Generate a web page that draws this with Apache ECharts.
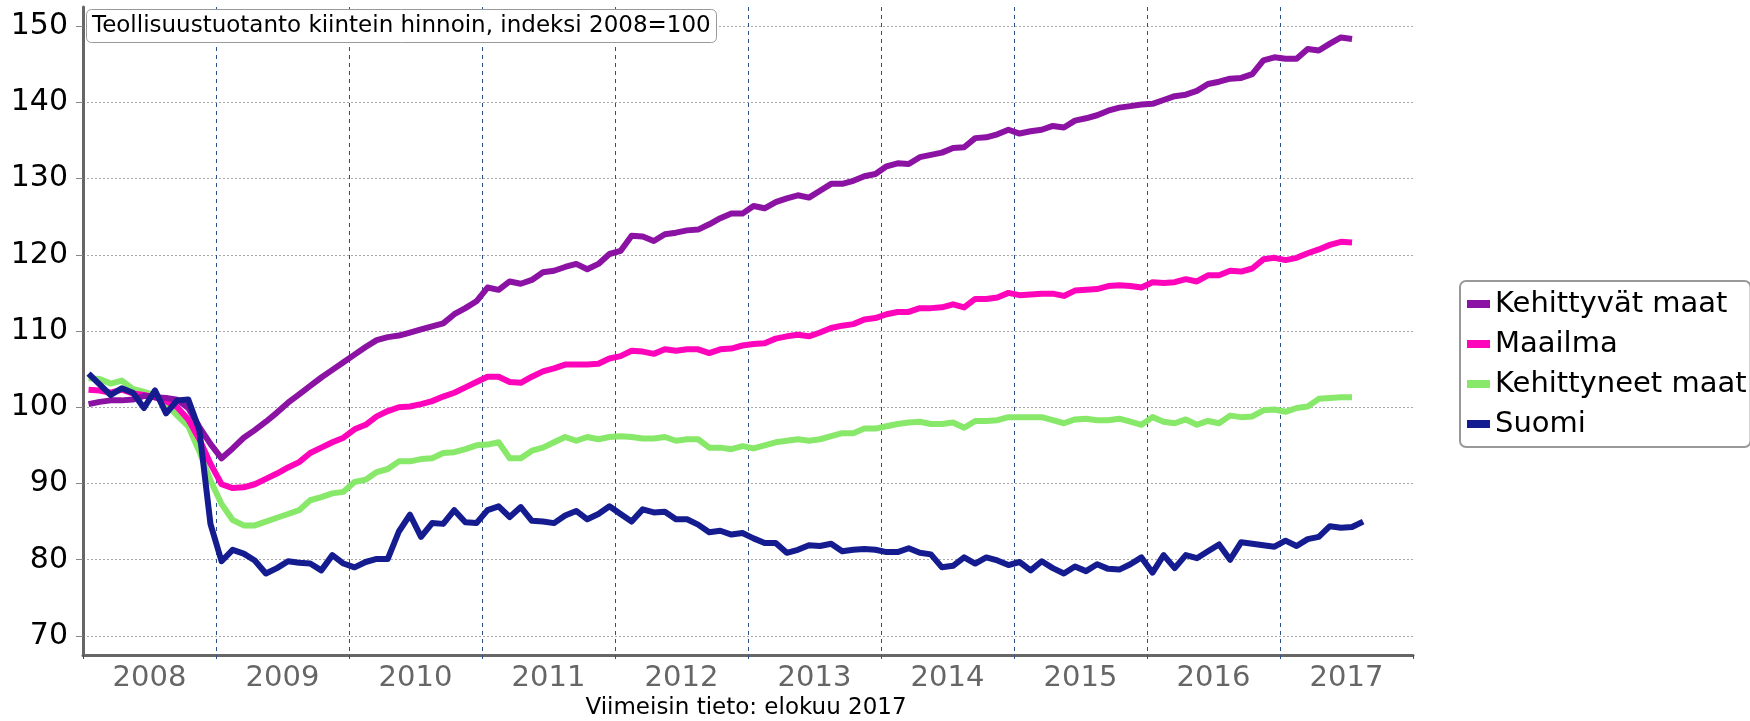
<!DOCTYPE html>
<html>
<head>
<meta charset="utf-8">
<script src="https://cdn.jsdelivr.net/npm/echarts@6/dist/echarts.min.js"></script>
<style>
  html, body { margin: 0; padding: 0; background: #fff; }
  #chart { width: 1750px; height: 721px; }
</style>
</head>
<body>
<div id="chart"></div>
<script>
// vuodet (x-akselin otsikot)
const years = ['2008', '2009', '2010', '2011', '2012', '2013', '2014', '2015', '2016', '2017'];

// kuukausittaiset arvot, indeksi 2008=100 (tammikuu 2008 ->)
const kehittyvat = [
  100.4, 100.7, 100.9, 100.9, 101.0, 101.5, 101.3, 101.2, 101.0, 99.9, 97.4, 95.2,
  93.3, 94.6, 96.0, 97.0, 98.1, 99.3, 100.6, 101.7, 102.8, 103.9, 104.9, 105.9,
  106.9, 107.9, 108.8, 109.2, 109.4, 109.8, 110.2, 110.6, 111.0, 112.2, 113.0, 113.9,
  115.7, 115.4, 116.5, 116.2, 116.7, 117.7, 117.9, 118.4, 118.8, 118.1, 118.8, 120.1,
  120.5, 122.5, 122.4, 121.8, 122.7, 122.9, 123.2, 123.3, 124.0, 124.8, 125.4, 125.4,
  126.4, 126.1, 126.9, 127.4, 127.8, 127.5, 128.4, 129.3, 129.3, 129.7, 130.3, 130.6,
  131.6, 132.0, 131.9, 132.8, 133.1, 133.4, 134.0, 134.1, 135.3, 135.4, 135.8, 136.4,
  135.9, 136.2, 136.4, 136.9, 136.7, 137.6, 137.9, 138.3, 138.9, 139.3, 139.5, 139.7,
  139.8, 140.3, 140.8, 141.0, 141.5, 142.4, 142.7, 143.1, 143.2, 143.7, 145.5, 145.9,
  145.7, 145.7, 147.0, 146.8, 147.7, 148.5, 148.3
];
const maailma = [
  102.3, 102.2, 101.9, 102.3, 101.8, 101.6, 101.3, 100.8, 100.0, 98.4, 95.8, 92.6,
  89.9, 89.4, 89.5, 89.9, 90.6, 91.3, 92.1, 92.8, 94.0, 94.7, 95.4, 96.0,
  97.1, 97.7, 98.8, 99.5, 100.0, 100.1, 100.4, 100.8, 101.4, 101.9, 102.6, 103.3,
  104.0, 104.0, 103.3, 103.2, 104.0, 104.7, 105.1, 105.6, 105.6, 105.6, 105.7, 106.4,
  106.7, 107.4, 107.3, 107.0, 107.6, 107.4, 107.6, 107.6, 107.1, 107.6, 107.7, 108.1,
  108.3, 108.4, 109.0, 109.3, 109.5, 109.3, 109.8, 110.4, 110.7, 110.9, 111.5, 111.7,
  112.2, 112.5, 112.5, 113.0, 113.0, 113.1, 113.5, 113.1, 114.2, 114.2, 114.4, 115.0,
  114.7, 114.8, 114.9, 114.9, 114.6, 115.3, 115.4, 115.5, 115.9, 116.0, 115.9, 115.7,
  116.4, 116.3, 116.4, 116.8, 116.5, 117.3, 117.3, 117.9, 117.8, 118.2, 119.4, 119.6,
  119.3, 119.6, 120.2, 120.7, 121.3, 121.7, 121.6
];
const kehittyneet = [
  103.8, 103.7, 103.1, 103.5, 102.4, 102.0, 101.6, 100.4, 98.9, 97.5, 94.2, 90.4,
  87.3, 85.2, 84.5, 84.5, 85.0, 85.5, 86.0, 86.5, 87.8, 88.2, 88.7, 88.9,
  90.2, 90.5, 91.5, 91.9, 92.9, 92.9, 93.2, 93.3, 94.0, 94.1, 94.5, 95.0,
  95.1, 95.4, 93.3, 93.3, 94.3, 94.7, 95.4, 96.1, 95.6, 96.1, 95.8, 96.1,
  96.2, 96.1, 95.9, 95.9, 96.1, 95.6, 95.8, 95.8, 94.7, 94.7, 94.5, 94.9,
  94.6, 95.0, 95.4, 95.6, 95.8, 95.6, 95.8, 96.2, 96.6, 96.6, 97.2, 97.2,
  97.5, 97.8, 98.0, 98.1, 97.8, 97.8, 98.0, 97.3, 98.2, 98.2, 98.3, 98.7,
  98.7, 98.7, 98.7, 98.3, 97.9, 98.4, 98.5, 98.3, 98.3, 98.5, 98.1, 97.7,
  98.7, 98.1, 97.9, 98.4, 97.7, 98.2, 97.9, 98.9, 98.7, 98.8, 99.6, 99.7,
  99.4, 99.9, 100.1, 101.1, 101.2, 101.3, 101.3
];
const suomi = [
  104.4, 103.0, 101.6, 102.5, 101.9, 99.9, 102.2, 99.2, 100.9, 101.0, 97.0, 84.7,
  79.8, 81.3, 80.8, 79.9, 78.2, 78.9, 79.8, 79.6, 79.5, 78.6, 80.6, 79.5,
  79.0, 79.7, 80.1, 80.1, 83.7, 85.9, 83.0, 84.8, 84.7, 86.5, 84.9, 84.8,
  86.5, 87.0, 85.6, 86.9, 85.1, 85.0, 84.8, 85.8, 86.4, 85.3, 86.0, 87.0,
  86.0, 85.0, 86.6, 86.2, 86.3, 85.3, 85.3, 84.6, 83.6, 83.8, 83.3, 83.5,
  82.8, 82.2, 82.2, 80.9, 81.3, 81.9, 81.8, 82.1, 81.1, 81.3, 81.4, 81.3,
  81.0, 81.0, 81.5, 80.9, 80.7, 79.0, 79.2, 80.3, 79.5, 80.3, 79.9, 79.3,
  79.7, 78.6, 79.8, 78.9, 78.2, 79.1, 78.5, 79.4, 78.8, 78.7, 79.4, 80.3,
  78.3, 80.6, 78.9, 80.6, 80.2, 81.1, 82.0, 80.0, 82.3, 82.1, 81.9, 81.7,
  82.5, 81.8, 82.7, 83.0, 84.4, 84.2, 84.3, 85.0
];

// kuukaudet kategorioiksi
const months = [];
years.forEach(function (y) {
  for (let m = 1; m <= 12; m++) months.push(y + '-' + (m < 10 ? '0' : '') + m);
});

const font = "'DejaVu Sans', Verdana, sans-serif";

const chart = echarts.init(document.getElementById('chart'), null, { renderer: 'canvas' });

function line(name, data, color, z) {
  return {
    name: name,
    type: 'line',
    xAxisIndex: 0,
    data: data,
    showSymbol: false,
    symbol: 'none',
    z: z,
    lineStyle: { color: color, width: 6, join: 'round' },
    itemStyle: { color: color },
    emphasis: { disabled: true }
  };
}

const option = {
  animation: false,
  title: {
    text: 'Teollisuustuotanto kiintein hinnoin, indeksi 2008=100',
    left: 86,
    top: 9,
    padding: [6, 6, 5, 6],
    backgroundColor: '#fff',
    borderColor: '#999',
    borderWidth: 1,
    borderRadius: 5,
    textStyle: { fontFamily: font, fontSize: 23, fontWeight: 'normal', color: '#000' },
    z: 10
  },
  legend: {
    orient: 'vertical',
    left: 1460,
    top: 281,
    padding: [8, 4, 8, 7],
    borderColor: '#999',
    borderWidth: 2,
    borderRadius: 6,
    icon: 'rect',
    itemWidth: 23,
    itemHeight: 8,
    itemGap: 10,
    textStyle: { fontFamily: font, fontSize: 29, color: '#000', lineHeight: 30 },
    data: ['Kehittyvät maat', 'Maailma', 'Kehittyneet maat', 'Suomi']
  },
  graphic: [{
    type: 'text',
    x: 746,
    y: 708,
    style: {
      text: 'Viimeisin tieto: elokuu 2017',
      font: '23px ' + font,
      fill: '#000',
      align: 'center',
      verticalAlign: 'middle'
    }
  }],
  grid: { left: 83, right: 337, top: 7, bottom: 66, containLabel: false },
  xAxis: [{
    type: 'category',
    data: months,
    boundaryGap: true,
    axisLine: { show: false },
    axisTick: { show: false },
    axisLabel: { show: false },
    splitLine: { show: false }
  }, {
    type: 'category',
    data: years,
    position: 'bottom',
    boundaryGap: true,
    axisLine: { show: true, lineStyle: { color: '#666', width: 3 } },
    axisTick: { show: true, length: 6, lineStyle: { color: '#2a5189', width: 1, type: [4, 3] } },
    axisLabel: { fontFamily: font, fontSize: 29, color: '#666', margin: 9 },
    splitLine: {
      show: true,
      showMinLine: false,
      showMaxLine: false,
      lineStyle: { color: '#2a5189', width: 1, type: [4, 4] }
    }
  }],
  yAxis: {
    type: 'value',
    min: 67.5,
    max: 152.5,
    minInterval: 10,
    maxInterval: 10,
    axisLine: { show: true, lineStyle: { color: '#666', width: 3 } },
    axisTick: { show: true, length: 7, lineStyle: { color: '#888', width: 1 } },
    axisLabel: { fontFamily: font, fontSize: 30, color: '#000', margin: 15, showMinLabel: false, showMaxLabel: false },
    splitLine: {
      show: true,
      showMinLine: false,
      showMaxLine: false,
      lineStyle: { color: '#aaa', width: 1, type: [2, 2] }
    }
  },
  series: [
    line('Kehittyvät maat', kehittyvat, '#8b12a3', 4),
    line('Maailma', maailma, '#ff05bb', 3),
    line('Kehittyneet maat', kehittyneet, '#88e86a', 2),
    line('Suomi', suomi, '#141c8f', 5)
  ]
};

chart.setOption(option);
</script>
</body>
</html>
